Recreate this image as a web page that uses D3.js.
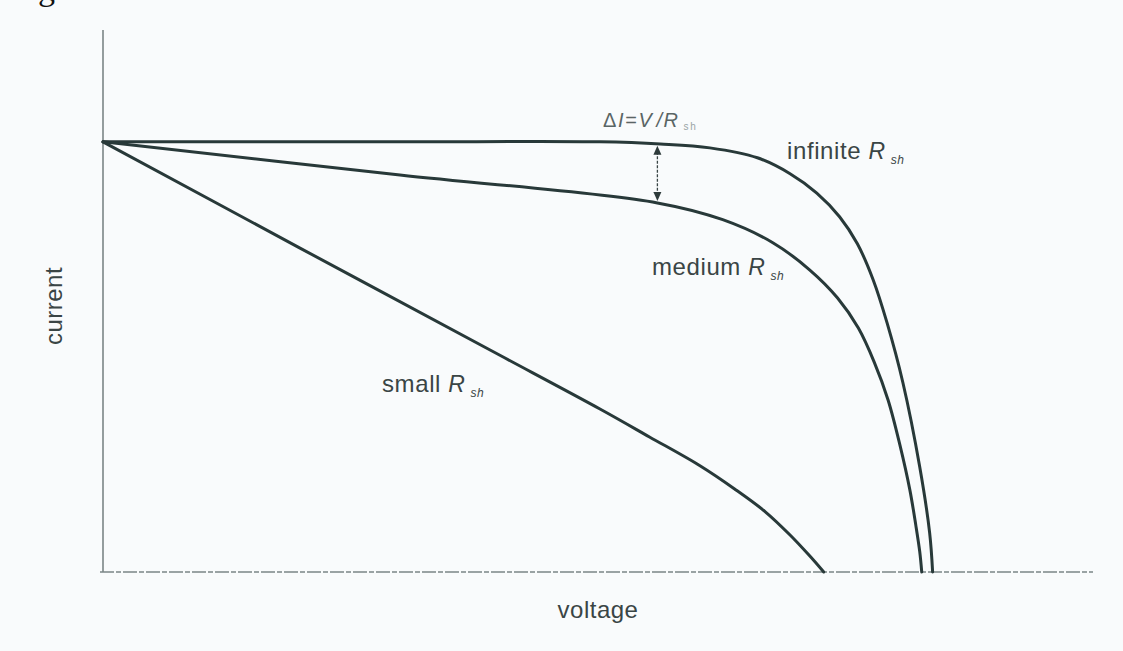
<!DOCTYPE html>
<html>
<head>
<meta charset="utf-8">
<script src="https://cdn.jsdelivr.net/npm/d3@7"></script>
<style>
  body { margin: 0; background: #f9fbfc; }
  svg { display: block; }
  .lbl { font-family: "Liberation Sans", Arial, sans-serif; fill: #3a4545; }
</style>
</head>
<body>
<svg id="chart" width="1123" height="651"></svg>
<script>
"use strict";

// normalised voltage / current (Isc = 1)
var infiniteV = [0, 0.300, 0.502, 0.563, 0.613, 0.661, 0.694, 0.721, 0.744, 0.762, 0.778, 0.792, 0.808, 0.825, 0.835, 0.838];
var infiniteI = [1, 1, 1, 0.995, 0.986, 0.963, 0.926, 0.881, 0.826, 0.763, 0.679, 0.579, 0.440, 0.244, 0.091, 0];

var mediumV = [0, 0.300, 0.560, 0.626, 0.677, 0.714, 0.742, 0.763, 0.779, 0.793, 0.805, 0.815, 0.821, 0.825, 0.827];
var mediumI = [1, 0.923, 0.858, 0.819, 0.765, 0.702, 0.637, 0.567, 0.488, 0.400, 0.295, 0.191, 0.109, 0.047, 0];

var smallV = [0, 0.199, 0.391, 0.502, 0.552, 0.603, 0.638, 0.669, 0.694, 0.714, 0.728];
var smallI = [1, 0.753, 0.516, 0.379, 0.314, 0.247, 0.193, 0.140, 0.086, 0.037, 0];

// delta-I marker sits at this voltage
var deltaV = 0.560;

var svg = d3.select("#chart");

var x = d3.scaleLinear().domain([0, 1]).range([103, 1093]);
var y = d3.scaleLinear().domain([0, 1.26]).range([572, 30]);

// scrap of the page text above the figure
svg.append("text")
    .attr("x", 38).attr("y", 0)
    .style("font-family", "'Liberation Serif', serif")
    .style("font-size", "34px")
    .style("fill", "#111")
    .text("g");

// axes: plain lines, no ticks
svg.append("line")
    .attr("x1", x(0)).attr("x2", x(0))
    .attr("y1", y(1.26)).attr("y2", y(0))
    .style("stroke", "#7b8686").style("stroke-width", 1.6);

svg.append("line")
    .attr("x1", x(0) - 3).attr("x2", x(1))
    .attr("y1", y(0)).attr("y2", y(0))
    .style("stroke", "#7b8686").style("stroke-width", 1.6)
    .style("stroke-dasharray", "14 2 5 2");

var line = d3.line()
    .x(function(d) { return x(d[0]); })
    .y(function(d) { return y(d[1]); })
    .curve(d3.curveCatmullRom.alpha(0.5));

function pairs(vs, is) {
    return vs.map(function(v, i) { return [v, is[i]]; });
}

[[infiniteV, infiniteI], [mediumV, mediumI], [smallV, smallI]].forEach(function(s) {
    svg.append("path")
        .datum(pairs(s[0], s[1]))
        .attr("d", line)
        .style("fill", "none")
        .style("stroke", "#283939")
        .style("stroke-width", 3)
        .style("stroke-linecap", "round");
});

// double headed arrow between infinite and medium curves
var medAtDelta = mediumI[mediumV.indexOf(deltaV)];
var ax = x(deltaV), ay1 = y(1) + 4, ay2 = y(medAtDelta) - 2;
svg.append("line")
    .attr("x1", ax).attr("x2", ax)
    .attr("y1", ay1 + 6).attr("y2", ay2 - 6)
    .style("stroke", "#3a4545").style("stroke-width", 1.3)
    .style("stroke-dasharray", "3 1.5");
svg.append("path")
    .attr("d", "M" + ax + "," + ay1 + "l-4,9h8z")
    .style("fill", "#2e3b3b");
svg.append("path")
    .attr("d", "M" + ax + "," + ay2 + "l-4,-9h8z")
    .style("fill", "#2e3b3b");

// labels
function rLabel(px, py, word, size) {
    var t = svg.append("text").attr("class", "lbl")
        .attr("x", px).attr("y", py)
        .style("font-size", size + "px")
        .style("letter-spacing", "0.6px");
    t.append("tspan").text(word + " ");
    t.append("tspan").style("font-style", "italic").style("font-size", (size - 1) + "px").text("R");
    t.append("tspan").attr("dx", 5).attr("dy", 5)
        .style("font-style", "italic").style("font-size", "12px").text("sh");
}

rLabel(787, 159, "infinite", 24);
rLabel(652, 275, "medium", 24);
rLabel(382, 392, "small", 24);

var dl = svg.append("text").attr("class", "lbl")
    .attr("x", 603).attr("y", 127)
    .style("font-size", "20px")
    .style("fill", "#5a6565")
    .style("letter-spacing", "1.6px");
dl.append("tspan").text("\u0394");
dl.append("tspan").style("font-style", "italic").text("I");
dl.append("tspan").text("=");
dl.append("tspan").style("font-style", "italic").text("V");
dl.append("tspan").attr("dx", 3).style("font-style", "italic").text("/");
dl.append("tspan").style("font-style", "italic").text("R");
dl.append("tspan").attr("dx", 4).attr("dy", 3)
    .style("font-size", "10px").style("fill", "#9aa5a5").text("sh");

svg.append("text").attr("class", "lbl")
    .attr("transform", "translate(62,306) rotate(-90)")
    .attr("text-anchor", "middle")
    .style("font-size", "24px")
    .style("letter-spacing", "0.5px")
    .text("current");

svg.append("text").attr("class", "lbl")
    .attr("x", 598).attr("y", 618)
    .attr("text-anchor", "middle")
    .style("font-size", "24px")
    .style("letter-spacing", "0.5px")
    .text("voltage");
</script>
</body>
</html>
